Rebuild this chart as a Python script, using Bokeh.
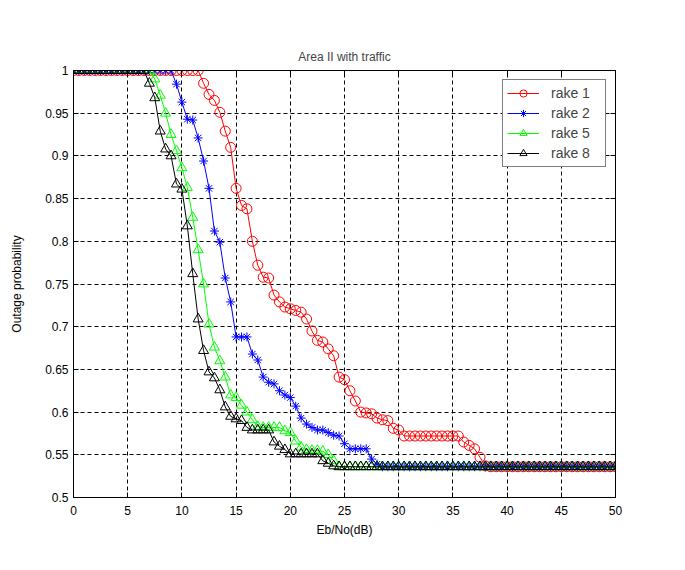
from bokeh.plotting import figure
from bokeh.models import (LinearAxis, Range1d, FixedTicker, CustomJSTickFormatter,
                          Legend, LegendItem, Title)
from bokeh.embed import file_html
from bokeh.resources import INLINE

x = [i * 0.5 for i in range(101)]

rake1 = ([1.0] * 24 +
         [0.985, 0.972, 0.965, 0.951, 0.929, 0.910, 0.862, 0.842, 0.838, 0.800,
          0.772, 0.758, 0.757, 0.737, 0.729, 0.723, 0.721, 0.719, 0.717, 0.709,
          0.695, 0.684, 0.682, 0.674, 0.666, 0.641, 0.638, 0.625, 0.613, 0.600,
          0.599, 0.598, 0.593, 0.591, 0.590, 0.581, 0.579, 0.572] +
         [0.572] * 10 +
         [0.565, 0.561, 0.557, 0.547, 0.537] +
         [0.536] * 24)

rake2 = ([1.0] * 19 +
         [0.984, 0.963, 0.943, 0.942, 0.921, 0.894, 0.862, 0.812, 0.799, 0.757,
          0.729, 0.688, 0.688, 0.688, 0.668, 0.661, 0.641, 0.635, 0.633, 0.625,
          0.620, 0.617, 0.607, 0.593, 0.586, 0.582, 0.579, 0.579, 0.576, 0.573,
          0.572, 0.563, 0.557, 0.557, 0.557, 0.557, 0.545, 0.539] +
         [0.536] * 44)

rake5 = ([1.0] * 15 +
         [0.990, 0.971, 0.950, 0.925, 0.906, 0.886, 0.863, 0.828, 0.790, 0.750,
          0.703, 0.676, 0.660, 0.641, 0.620, 0.617, 0.608, 0.600, 0.591, 0.583,
          0.582, 0.582, 0.582, 0.582, 0.578, 0.576, 0.566, 0.559, 0.556, 0.555,
          0.555, 0.554, 0.550, 0.543] +
         [0.536] * 52)

rake8 = ([1.0] * 14 +
         [0.985, 0.968, 0.929, 0.908, 0.900, 0.867, 0.861, 0.818, 0.762, 0.709,
          0.672, 0.647, 0.640, 0.626, 0.606, 0.595, 0.592, 0.590, 0.582, 0.579,
          0.579, 0.579, 0.579, 0.565, 0.560, 0.556, 0.551, 0.551, 0.551, 0.551,
          0.551, 0.551, 0.543, 0.540, 0.537] +
         [0.536] * 52)

labels = ["rake 1", "rake 2", "rake 5", "rake 8"]
colors = ["#ff0000", "#0000ff", "#00ff00", "#000000"]
markers = ["circle", "asterisk", "triangle", "triangle"]
series = [rake1, rake2, rake5, rake8]

x_ticks = [0, 5, 10, 15, 20, 25, 30, 35, 40, 45, 50]
y_ticks = [0.5, 0.55, 0.6, 0.65, 0.7, 0.75, 0.8, 0.85, 0.9, 0.95, 1.0]

FONT = "Liberation Sans"

p = figure(width=669, height=554, output_backend="svg", toolbar_location=None,
           x_range=Range1d(0, 50), y_range=Range1d(0.5, 1.0),
           min_border_left=73, min_border_right=54, min_border_top=70,
           min_border_bottom=57, background_fill_color="white",
           border_fill_color="white")

p.title = Title(text="Area II with traffic", align="center", text_font=FONT,
                text_font_size="12px", text_font_style="normal", offset=0)
p.title.standoff = 14

p.outline_line_color = "black"
p.outline_line_width = 1

yfmt = CustomJSTickFormatter(code="return (Math.round(tick*100)/100).toString();")
blank = CustomJSTickFormatter(code="return '';")

xt = FixedTicker(ticks=x_ticks)
yt = FixedTicker(ticks=y_ticks)

for ax in p.xaxis:
    ax.ticker = xt
    ax.axis_label = "Eb/No(dB)"
    ax.major_label_standoff = 8
    ax.axis_label_standoff = 5
for ax in p.yaxis:
    ax.ticker = yt
    ax.formatter = yfmt
    ax.axis_label = "Outage probability"
    ax.major_label_standoff = 5
    ax.axis_label_standoff = 18

for ax in list(p.xaxis) + list(p.yaxis):
    ax.axis_line_color = "black"
    ax.major_tick_in = 5
    ax.major_tick_out = 0
    ax.minor_tick_line_color = None
    ax.major_tick_line_color = "black"
    ax.major_label_text_font = FONT
    ax.major_label_text_font_size = "12px"
    ax.major_label_text_color = "black"
    ax.axis_label_text_font = FONT
    ax.axis_label_text_font_size = "12px"
    ax.axis_label_text_font_style = "normal"
    ax.axis_label_text_color = "black"

top = LinearAxis(ticker=xt, formatter=blank, major_label_text_color=None,
                 major_tick_in=5, major_tick_out=0, minor_tick_line_color=None,
                 axis_line_color="black", major_label_standoff=0)
right = LinearAxis(ticker=yt, formatter=blank, major_label_text_color=None,
                   major_tick_in=5, major_tick_out=0, minor_tick_line_color=None,
                   axis_line_color="black", major_label_standoff=0)
p.add_layout(top, "above")
p.add_layout(right, "right")

p.xgrid.ticker = xt
p.ygrid.ticker = yt
for g in [p.xgrid, p.ygrid]:
    g.grid_line_color = "black"
    g.grid_line_dash = "4 3"
    g.grid_line_width = 1
    g.grid_line_alpha = 1.0

items = []
for lab, col, mk, ys in zip(labels, colors, markers, series):
    lr = p.line(x, ys, line_color=col, line_width=1)
    sr = p.scatter(x, ys, marker=mk, size=10 if mk != "asterisk" else 9,
                   line_color=col, fill_color=None, line_width=1)
    items.append(LegendItem(label=lab, renderers=[lr, sr]))

legend = Legend(items=items, location="top_right", margin=9,
                border_line_color="black", border_line_width=1,
                background_fill_color="white", background_fill_alpha=1.0,
                label_text_font=FONT, label_text_font_size="14px",
                glyph_width=32, glyph_height=18, label_height=18,
                label_width=50, spacing=2, padding=4, label_standoff=12)
p.add_layout(legend, "center")

open("out.html", "w").write(file_html(p, INLINE))
